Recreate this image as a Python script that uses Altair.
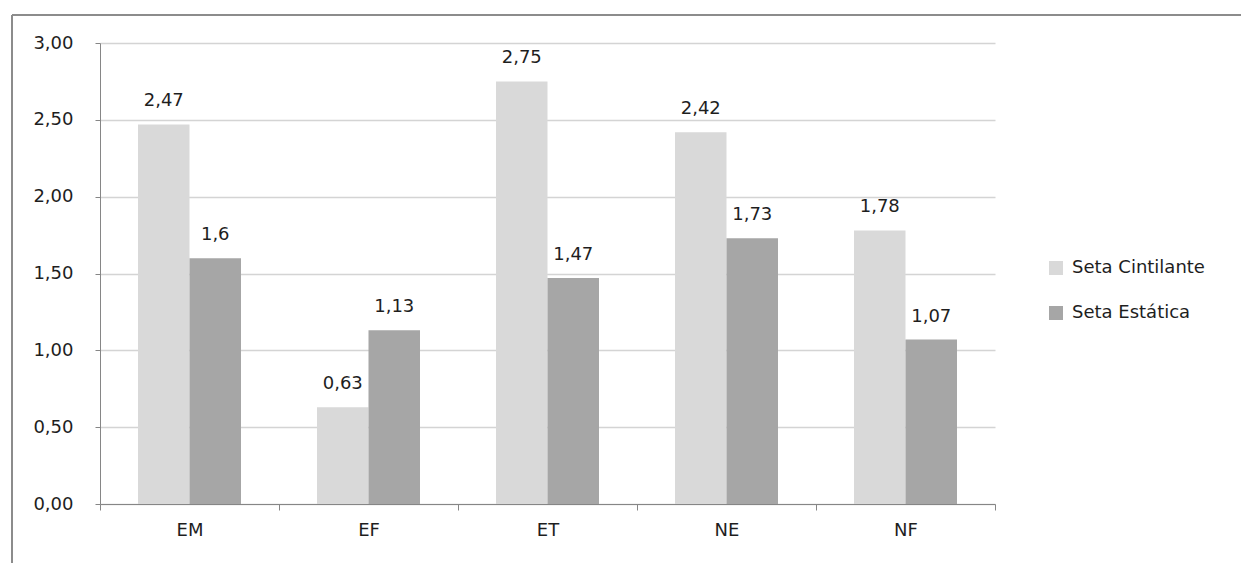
import altair as alt
import pandas as pd

categories = ["EM", "EF", "ET", "NE", "NF"]
series_names = ["Seta Cintilante", "Seta Estática"]
cintilante = [2.47, 0.63, 2.75, 2.42, 1.78]
estatica = [1.6, 1.13, 1.47, 1.73, 1.07]
colors = ["#d9d9d9", "#a6a6a6"]
y_ticks = [0, 0.5, 1.0, 1.5, 2.0, 2.5, 3.0]

rows = []
for series, vals in zip(series_names, [cintilante, estatica]):
    for c, v in zip(categories, vals):
        rows.append({"cat": c, "series": series, "value": v,
                     "label": str(v).replace(".", ",")})
df = pd.DataFrame(rows)

W, H = 895, 461
FONT = "DejaVu Sans"
FS = 18
TXT = "#1e1e1e"

x_enc = alt.X("cat:N", sort=categories, title=None,
              scale=alt.Scale(paddingInner=0, paddingOuter=0),
              axis=alt.Axis(labelAngle=0, labelFont=FONT, labelFontSize=FS,
                            labelColor=TXT, labelPadding=11,
                            domainColor="#868686", tickColor="#868686",
                            tickSize=6, tickBand="extent", grid=False))
xoff = alt.XOffset("series:N", sort=series_names,
                   scale=alt.Scale(paddingInner=0, paddingOuter=0.738))
y_enc = alt.Y("value:Q", title=None,
              scale=alt.Scale(domain=[0, 3], nice=False, zero=True),
              axis=alt.Axis(values=y_ticks,
                            labelExpr="replace(format(datum.value, '.2f'), '.', ',')",
                            labelFont=FONT, labelFontSize=FS, labelColor=TXT,
                            labelPadding=22, tickSize=5,
                            domainColor="#868686", tickColor="#868686",
                            gridColor="#d4d4d4", gridWidth=1.5))

base = alt.Chart(df)

bars = base.mark_bar().encode(
    x=x_enc, xOffset=xoff, y=y_enc,
    color=alt.Color("series:N", sort=series_names, title=None,
                    scale=alt.Scale(domain=series_names, range=colors),
                    legend=alt.Legend(orient="none", legendX=947, legendY=216,
                                      symbolType="square", symbolSize=196,
                                      symbolStrokeWidth=0,
                                      labelFont=FONT, labelFontSize=FS,
                                      labelColor=TXT, labelOffset=7,
                                      rowPadding=27, padding=0, offset=0)),
)

texts = base.mark_text(font=FONT, fontSize=FS, color=TXT,
                       baseline="alphabetic", dy=-18).encode(
    x=alt.X("cat:N", sort=categories),
    xOffset=alt.XOffset("series:N", sort=series_names),
    y="value:Q", text="label:N")

frame_top = alt.Chart(df).mark_rule(color="#8c8c8c", strokeWidth=2).encode(
    x=alt.value(-88), x2=alt.value(1141), y=alt.value(-28))
frame_left = alt.Chart(df).mark_rule(color="#8c8c8c", strokeWidth=2).encode(
    x=alt.value(-88), y=alt.value(-28), y2=alt.value(520))

chart = alt.layer(bars, texts, frame_top, frame_left).properties(
    width=W, height=H,
    autosize=alt.AutoSizeParams(type="none"),
    padding={"left": 100, "top": 43, "right": 246, "bottom": 59},
    background="white",
).configure_view(strokeWidth=0)

chart.save("out.html", embed_options={"renderer": "svg", "actions": False})
